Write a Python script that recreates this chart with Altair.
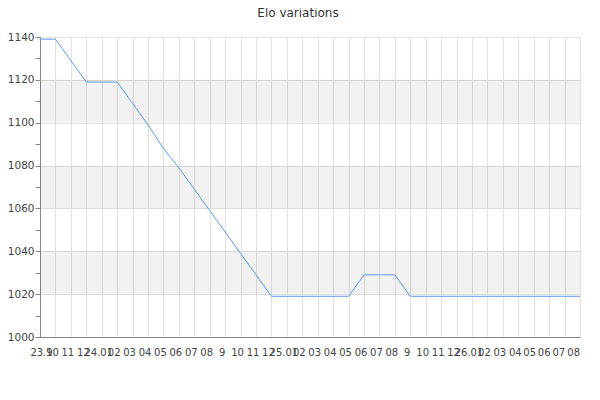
import altair as alt
import pandas as pd

# month ticks (year.month on the first month of each year)
month_labels = ["23.9", "10", "11", "12",
                "24.01", "02", "03", "04", "05", "06", "07", "08", "9", "10", "11", "12",
                "25.01", "02", "03", "04", "05", "06", "07", "08", "9", "10", "11", "12",
                "26.01", "02", "03", "04", "05", "06", "07", "08"]
elo = [1139, 1139, 1129, 1119, 1119, 1119, 1109, 1099, 1088, 1079,
       1069, 1059, 1049, 1039, 1029, 1019, 1019, 1019, 1019, 1019,
       1019, 1029, 1029, 1029, 1019, 1019, 1019, 1019, 1019, 1019,
       1019, 1019, 1019, 1019, 1019, 1019]

# shaded horizontal bands
band_low = [1020, 1060, 1100]
band_high = [1040, 1080, 1120]

df = pd.DataFrame({"idx": list(range(len(elo))), "elo": elo})
bands = pd.DataFrame({"lo": band_low, "hi": band_high,
                      "x0": [0] * len(band_low), "x1": [len(elo) - 1] * len(band_low)})

last = len(elo) - 1
label_array = "[" + ",".join(f"'{s}'" for s in month_labels) + "]"

x_scale = alt.Scale(domain=[0, last], nice=False, zero=False)
y_scale = alt.Scale(domain=[1000, 1140], nice=False, zero=False)

x_axis = alt.Axis(
    values=list(range(len(elo))),
    labelExpr=f"{label_array}[datum.value]",
    ticks=False,
    domainColor="#888888",
    gridColor="#e2e2e2",
    labelFontSize=10,
    labelColor="#444444",
    labelOverlap=False,
    labelFlush=False,
    labelBound=False,
    labelPadding=10,
    # labels drift a little left towards the right end
    labelOffset={"condition": [{"test": "datum.value == 0", "value": 1},
                               {"test": f"datum.value == {last - 3}", "value": -4.5},
                               {"test": f"datum.value == {last - 2}", "value": -5.5},
                               {"test": f"datum.value == {last - 1}", "value": -6.2},
                               {"test": f"datum.value == {last}", "value": -6.8}],
                 "value": -3.5},
    title=None,
)

y_axis = alt.Axis(
    values=list(range(1000, 1141, 10)),
    labelExpr="datum.value % 20 == 0 ? format(datum.value, 'd') : ''",
    gridOpacity={"condition": {"test": "datum.value % 20 != 0", "value": 0}, "value": 1},
    gridColor="#e2e2e2",
    domainColor="#888888",
    tickColor="#888888",
    tickSize=5,
    labelPadding=1,
    labelFontSize=10.5,
    labelColor="#444444",
    labelBound=False,
    title=None,
)

band_layer = alt.Chart(bands).mark_rect(fill="black", opacity=0.05).encode(
    x=alt.X("x0:Q", scale=x_scale, axis=x_axis),
    x2="x1:Q",
    y=alt.Y("lo:Q", scale=y_scale, axis=y_axis),
    y2="hi:Q",
)

line_layer = alt.Chart(df).mark_line(color="#6495ED", strokeWidth=1).encode(
    x=alt.X("idx:Q", scale=x_scale, axis=x_axis),
    y=alt.Y("elo:Q", scale=y_scale, axis=y_axis),
)

chart = alt.layer(band_layer, line_layer).properties(
    width=540,
    height=300,
    autosize=alt.AutoSizeParams(type="none"),
    padding={"left": 32, "top": 29, "right": 12, "bottom": 50},
    title=alt.TitleParams(
        "Elo variations",
        fontSize=12,
        font="DejaVu Sans",
        fontWeight="normal",
        color="#333333",
        anchor="middle",
        offset=12,
        dx=-12,
    ),
).configure_view(
    stroke=None
).configure(
    font="DejaVu Sans"
)

chart.save("out.html", embed_options={"renderer": "svg", "actions": False})
